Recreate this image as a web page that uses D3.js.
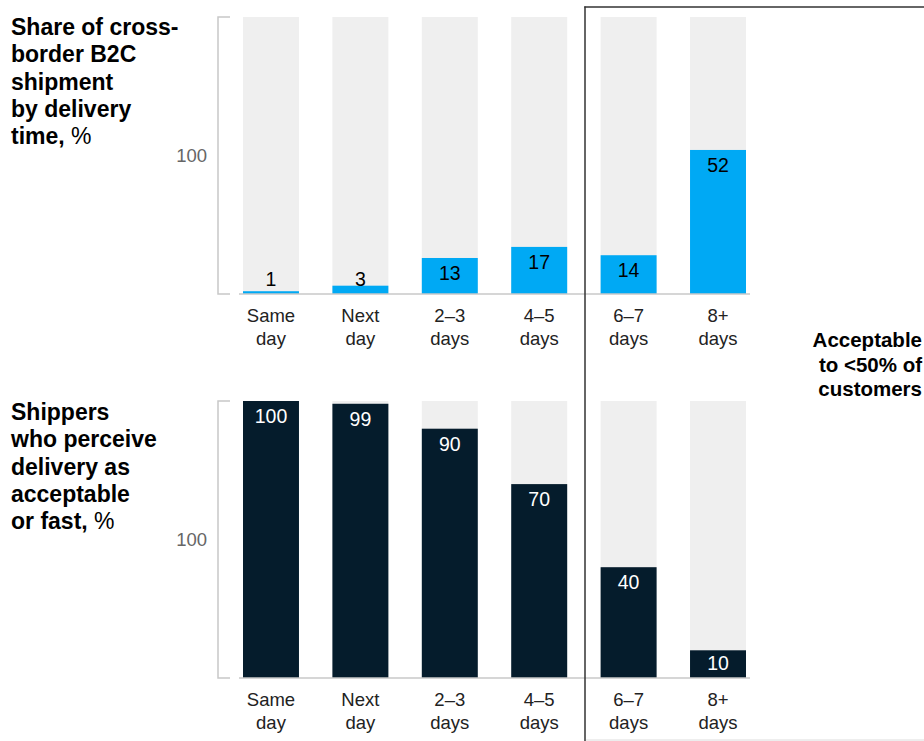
<!DOCTYPE html>
<html>
<head>
<meta charset="utf-8">
<script src="https://cdn.jsdelivr.net/npm/d3@7"></script>
<style>
  html, body { margin: 0; padding: 0; background: #fff; }
  svg { display: block; font-family: "Liberation Sans", Arial, sans-serif; }
</style>
</head>
<body>
<svg id="chart" width="924" height="741"></svg>
<script>
// Delivery-time categories (each split into two label lines)
const categories = ["Same day", "Next day", "2–3 days", "4–5 days", "6–7 days", "8+ days"];
const categoryLines = [["Same", "day"], ["Next", "day"], ["2–3", "days"], ["4–5", "days"], ["6–7", "days"], ["8+", "days"]];

// Share of cross-border B2C shipments by delivery time, %
const shareValues = [1, 3, 13, 17, 14, 52];
// Shippers who perceive delivery as acceptable or fast, %
const acceptValues = [100, 99, 90, 70, 40, 10];

const axisMax = 100;
const axisLabel = "100";

const titleShare = ["Share of cross-", "border B2C", "shipment", "by delivery", "time,"];
const titleAccept = ["Shippers", "who perceive", "delivery as", "acceptable", "or fast,"];
const noteLines = ["Acceptable", "to <50% of", "customers"];

const svg = d3.select("#chart");

const x = d3.scaleBand()
  .domain(categories)
  .range([243, 746])
  .paddingInner(0.374)
  .paddingOuter(0);

function drawPanel(opts) {
  const { top, bottom, values, fill, labelFill, titleLines, titleTop } = opts;
  const y = d3.scaleLinear().domain([0, axisMax]).range([bottom, top]);
  const g = svg.append("g");

  // background track for each bar (full 100%)
  g.selectAll("rect.track").data(categories).join("rect")
    .attr("class", "track")
    .attr("x", d => x(d))
    .attr("width", x.bandwidth())
    .attr("y", y(axisMax))
    .attr("height", y(0) - y(axisMax))
    .attr("fill", "#efefef");

  // value bars
  g.selectAll("rect.bar").data(values).join("rect")
    .attr("class", "bar")
    .attr("x", (d, i) => x(categories[i]))
    .attr("width", x.bandwidth())
    .attr("y", d => y(d))
    .attr("height", d => y(0) - y(d))
    .attr("fill", fill);

  // value labels inside the top of each bar (small bars: just above the base)
  g.selectAll("text.val").data(values).join("text")
    .attr("class", "val")
    .attr("x", (d, i) => x(categories[i]) + x.bandwidth() / 2)
    .attr("y", d => Math.min(y(d) + 22, bottom - 8))
    .attr("text-anchor", "middle")
    .attr("font-size", 19.5)
    .attr("fill", d => (y(0) - y(d) < 24 ? "#000" : labelFill))
    .text(d => d);

  // bracket-style value axis
  const ax = 218;
  g.append("path")
    .attr("d", `M${ax + 12},${y(axisMax)}H${ax}V${y(0)}H${ax + 12}`)
    .attr("fill", "none")
    .attr("stroke", "#c8c8c8")
    .attr("stroke-width", 1.5);
  g.append("text")
    .attr("x", 207)
    .attr("y", (y(0) + y(axisMax)) / 2 + 6)
    .attr("text-anchor", "end")
    .attr("font-size", 18.5)
    .attr("fill", "#666")
    .text(axisLabel);

  // baseline
  g.append("line")
    .attr("x1", 239).attr("x2", 750)
    .attr("y1", y(0)).attr("y2", y(0))
    .attr("stroke", "#c8c8c8")
    .attr("stroke-width", 1.5);

  // category labels
  const cat = g.selectAll("text.cat").data(categories).join("text")
    .attr("class", "cat")
    .attr("x", d => x(d) + x.bandwidth() / 2)
    .attr("y", bottom + 28)
    .attr("text-anchor", "middle")
    .attr("font-size", 18.5)
    .attr("fill", "#222");
  cat.selectAll("tspan").data((d, i) => categoryLines[i]).join("tspan")
    .attr("x", function () { return this.parentNode.getAttribute("x"); })
    .attr("dy", (d, j) => (j === 0 ? 0 : 22.5))
    .text(d => d);

  // panel title
  const t = g.append("text")
    .attr("x", 11)
    .attr("y", titleTop)
    .attr("font-size", 23)
    .attr("font-weight", "bold")
    .attr("fill", "#000");
  titleLines.forEach((line, i) => {
    t.append("tspan")
      .attr("x", 11)
      .attr("dy", i === 0 ? 0 : 27.3)
      .text(line);
    if (i === titleLines.length - 1) {
      t.append("tspan").attr("font-weight", "normal").text(" %");
    }
  });
}

drawPanel({
  top: 17, bottom: 294, values: shareValues,
  fill: "#00a9f4", labelFill: "#000",
  titleLines: titleShare, titleTop: 35
});

drawPanel({
  top: 401, bottom: 678, values: acceptValues,
  fill: "#051c2c", labelFill: "#fff",
  titleLines: titleAccept, titleTop: 420
});

// highlight frame around the slowest delivery options
svg.append("line")
  .attr("x1", 585).attr("x2", 585).attr("y1", 6.5).attr("y2", 741)
  .attr("stroke", "#333").attr("stroke-width", 1.5);
svg.append("line")
  .attr("x1", 584.25).attr("x2", 924).attr("y1", 7).attr("y2", 7)
  .attr("stroke", "#333").attr("stroke-width", 1.5);
svg.append("line")
  .attr("x1", 586).attr("x2", 924).attr("y1", 740).attr("y2", 740)
  .attr("stroke", "#dcdcdc").attr("stroke-width", 1);

// note on the framed region
const note = svg.append("text")
  .attr("x", 922)
  .attr("y", 347)
  .attr("text-anchor", "end")
  .attr("font-size", 20.5)
  .attr("font-weight", "bold")
  .attr("fill", "#000");
note.selectAll("tspan").data(noteLines).join("tspan")
  .attr("x", 922)
  .attr("dy", (d, i) => (i === 0 ? 0 : 24.5))
  .text(d => d);
</script>
</body>
</html>
